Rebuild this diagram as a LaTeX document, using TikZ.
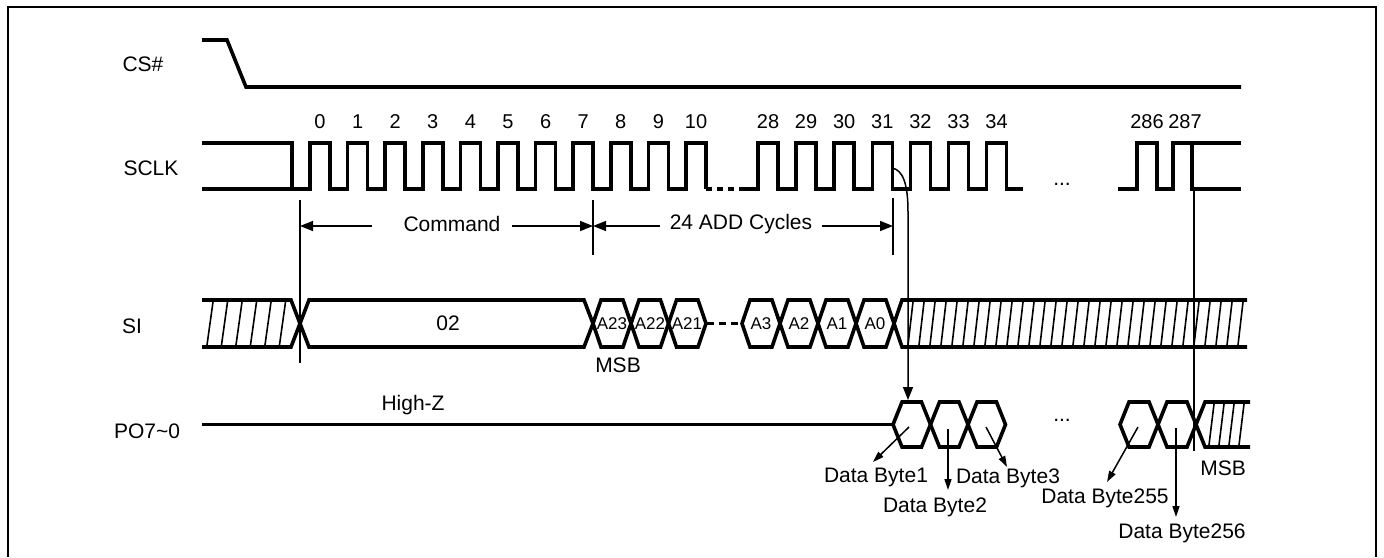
\documentclass[tikz,border=0pt]{standalone}
\usepackage{fontspec}
\setmainfont{Liberation Sans}
\usetikzlibrary{arrows.meta}
\tikzset{
  sig/.style={line width=3.6pt, line join=miter},
  thinl/.style={line width=1.5pt},
  hatchl/.style={line width=1.6pt},
  lbl/.style={font=\fontsize{21}{25}\selectfont, inner sep=0pt},
  num/.style={font=\fontsize{20}{24}\selectfont, inner sep=0pt},
  addr/.style={font=\fontsize{17}{20}\selectfont, inner sep=0pt},
  arr/.style={thinl, -{Triangle[length=13pt,width=10pt]}},
  sarr/.style={thinl, -{Triangle[length=11pt,width=7pt]}},
}
% hexagon cell: x1, x2, ytop, ybottom, slant
\newcommand\hexcell[5]{%
  \draw[sig] (#1,{(#3+#4)/2}) -- ({#1+#5},#3) -- ({#2-#5},#3) -- (#2,{(#3+#4)/2}) -- ({#2-#5},#4) -- ({#1+#5},#4) -- cycle;}
\begin{document}
\begin{tikzpicture}[x=1pt,y=-1pt]
\useasboundingbox (0,0) rectangle (1384,557);
% frame
\draw[line width=2pt] (8,557) -- (8,7) -- (1376,7) -- (1376,557);

% signal names
\node[lbl] (lcs) at (143,64) {CS\#};
\node[lbl] (lsclk) at (151,168) {SCLK};
\node[lbl] (lsi) at (132,326) {SI};
\node[lbl] (lpo) at (147,431) {PO7\textasciitilde 0};

% CS#
\draw[sig] (202,40) -- (227,40) -- (246,87) -- (1241,87);

% SCLK
\draw[sig] (202,143) -- (292,143) -- (292,189);
\draw[sig] (202,189) -- (292,189)
  \foreach \k in {0,...,10}{ -- ({310+37.6*\k},189) -- ({310+37.6*\k},143) -- ({330+37.6*\k},143) -- ({330+37.6*\k},189) };
\draw[sig, dash pattern=on 6pt off 5pt] (706,189) -- (740,189);
\draw[sig] (740,189)
  \foreach \k in {0,...,6}{ -- ({758+38.1*\k},189) -- ({758+38.1*\k},143) -- ({778+38.1*\k},143) -- ({778+38.1*\k},189) } -- (1023,189);
\node[lbl] (dots1) at (1062,184) {...};
\draw[sig] (1118,189) -- (1137,189) -- (1137,143) -- (1157,143) -- (1157,189) -- (1173,189) -- (1173,143) -- (1241,143);
\draw[sig] (1192,143) -- (1192,189) -- (1241,189);

% clock numbers
\foreach \k in {0,...,10}{
  \node[num] (n\k) at ({320+37.6*\k},122) {\k};
}
\foreach \k [count=\i from 0] in {28,...,34}{
  \node[num] (n\k) at ({768+38.1*\i},122) {\k};
}
\node[num] (n286) at (1147,122) {286};
\node[num] (n287) at (1185,122) {287};

% timing markers
\coordinate (m0t) at (300,200); \coordinate (m0b) at (300,363);
\coordinate (m1t) at (593,200); \coordinate (m1b) at (593,255);
\coordinate (m2t) at (893,198); \coordinate (m2b) at (893,255);
\draw[thinl] (m0t) -- (m0b);
\draw[thinl] (m1t) -- (m1b);
\draw[thinl] (m2t) -- (m2b);
\coordinate (a0) at (300,226);
\coordinate (a1) at (593,226);
\coordinate (a2) at (893,226);
\node[lbl] (cmd) at (452,224) {Command};
\node[lbl] (add) at (741,224) {24 ADD Cycles};
\coordinate (c1) at (372,226); \coordinate (c2) at (512,226);
\coordinate (c3) at (660,226); \coordinate (c4) at (822,226);
\draw[arr] (c1) -- (a0);
\draw[arr] (c2) -- (a1);
\draw[arr] (c3) -- (a1);
\draw[arr] (c4) -- (a2);

% SI
\draw[sig] (202,300) -- (291,300) -- (300,323.5) -- (291,347) -- (202,347);
\foreach \x in {207,221.5,...,280}{ \draw[hatchl] (\x,345) -- (\x+6,302); }
\hexcell{300}{593}{300}{347}{9}
\node[lbl] (v02) at (448,323.5) {02};
\hexcell{593}{631}{300}{347}{8}
\hexcell{631}{668.5}{300}{347}{8}
\hexcell{668.5}{706}{300}{347}{8}
\node[addr] (a23) at (612,323.5) {A23};
\node[addr] (a22) at (650,323.5) {A22};
\node[addr] (a21) at (687,323.5) {A21};
\draw[sig, dash pattern=on 7pt off 5pt] (707,323.5) -- (741,323.5);
\hexcell{742}{780}{300}{347}{8}
\hexcell{780}{818}{300}{347}{8}
\hexcell{818}{856}{300}{347}{8}
\hexcell{856}{894}{300}{347}{8}
\node[addr] (aa3) at (761,323.5) {A3};
\node[addr] (aa2) at (799,323.5) {A2};
\node[addr] (aa1) at (837,323.5) {A1};
\node[addr] (aa0) at (875,323.5) {A0};
\draw[sig] (1247,300) -- (902,300) -- (894,323.5) -- (902,347) -- (1247,347);
\foreach \x in {908,919,...,1240}{ \draw[hatchl] (\x,345) -- (\x+5,302); }
\node[lbl] (msb1) at (618,365) {MSB};

% PO7~0
\draw[sig] (202,424.5) -- (893,424.5);
\node[lbl] (hz) at (413,405) {High-Z};
\hexcell{893}{930.5}{402}{447}{9}
\hexcell{930.5}{968}{402}{447}{9}
\hexcell{968}{1005.5}{402}{447}{9}
\node[lbl] (dots2) at (1062,420) {...};
\hexcell{1120}{1158}{402}{447}{9}
\hexcell{1158}{1196}{402}{447}{9}
\draw[sig] (1250,402) -- (1205,402) -- (1196,424.5) -- (1205,447) -- (1250,447);
\foreach \x in {1209,1219,...,1240}{ \draw[hatchl] (\x,445) -- (\x+5,404); }
\node[lbl] (msb2) at (1223,468) {MSB};

% SCLK 287 marker
\coordinate (v287t) at (1194,189); \coordinate (v287b) at (1194,451);
\draw[thinl] (v287t) -- (v287b);

% clock-to-data arrow
\coordinate (ck31) at (892,168);
\coordinate (po1) at (908,400);
\draw[arr] (ck31) .. controls (903,170) and (908,184) .. (908,212) -- (po1);

% data byte labels
\node[lbl] (db1) at (876,477) {Data Byte1};
\node[lbl] (db2) at (935,507) {Data Byte2};
\node[lbl] (db3) at (1008,478) {Data Byte3};
\node[lbl] (db255) at (1105,498) {Data Byte255};
\node[lbl] (db256) at (1182,533) {Data Byte256};
\coordinate (p1) at (909,427); \coordinate (q1) at (873,462);
\coordinate (p2) at (948,429); \coordinate (q2) at (948,490);
\coordinate (p3) at (986,427); \coordinate (q3) at (1007,467);
\coordinate (p4) at (1138,427); \coordinate (q4) at (1107,482);
\coordinate (p5) at (1176,428); \coordinate (q5) at (1176,517);
\draw[sarr] (p1) -- (q1);
\draw[sarr] (p2) -- (q2);
\draw[sarr] (p3) -- (q3);
\draw[sarr] (p4) -- (q4);
\draw[sarr] (p5) -- (q5);
\end{tikzpicture}
\end{document}
